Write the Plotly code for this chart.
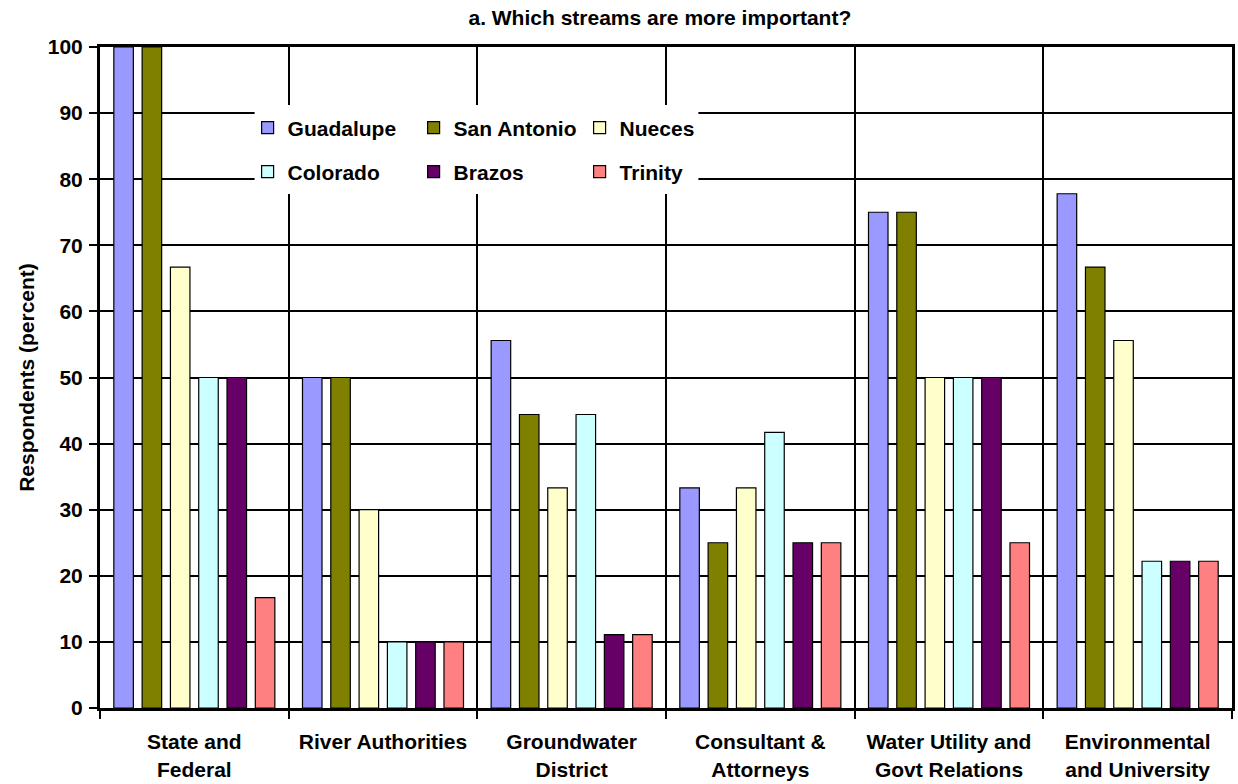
import plotly.graph_objects as go

categories = [
    "State and<br>Federal",
    "River Authorities",
    "Groundwater<br>District",
    "Consultant &<br>Attorneys",
    "Water Utility and<br>Govt Relations",
    "Environmental<br>and University",
]

guadalupe = [100, 50, 55.6, 33.3, 75, 77.8]
san_antonio = [100, 50, 44.4, 25, 75, 66.7]
nueces = [66.7, 30, 33.3, 33.3, 50, 55.6]
colorado = [50, 10, 44.4, 41.7, 50, 22.2]
brazos = [50, 10, 11.1, 25, 50, 22.2]
trinity = [16.7, 10, 11.1, 25, 25, 22.2]

y_ticks = [0, 10, 20, 30, 40, 50, 60, 70, 80, 90, 100]

series = [
    ("Guadalupe", guadalupe, "#9999FF", "legend"),
    ("San Antonio", san_antonio, "#808000", "legend"),
    ("Nueces", nueces, "#FFFFCC", "legend"),
    ("Colorado", colorado, "#CCFFFF", "legend2"),
    ("Brazos", brazos, "#660066", "legend2"),
    ("Trinity", trinity, "#FF8080", "legend2"),
]

FONT = "Liberation Sans, Arial, sans-serif"
FS = 21


def bold(size=FS):
    return dict(family=FONT, size=size, color="#000000", weight="bold")


# plot area in pixels: x 100..1235, y 47..708
L, R, T, B = 100, 1235, 47, 708


def px_x(v):
    return (v - L) / (R - L)


def px_y(v):
    return (B - v) / (B - T)


fig = go.Figure()
for name, vals, color, leg in series:
    fig.add_trace(go.Bar(
        x=categories, y=vals, name=name, legend=leg,
        marker=dict(color=color, line=dict(color="#000000", width=1.2)),
    ))

# white panel behind the legend that hides the grid lines
fig.add_shape(type="rect", xref="paper", yref="paper",
              x0=px_x(255), x1=px_x(700), y0=px_y(194), y1=px_y(105),
              fillcolor="white", line=dict(width=0), layer="above")

legend_common = dict(
    orientation="h", entrywidth=121, entrywidthmode="pixels",
    font=bold(), bgcolor="rgba(0,0,0,0)",
    xanchor="left", yanchor="middle",
    itemclick=False, itemdoubleclick=False,
)

fig.update_layout(
    width=1238, height=784,
    margin=dict(l=L, r=1238 - R, t=T, b=784 - B),
    plot_bgcolor="white", paper_bgcolor="white",
    barmode="group", bargap=0.1, bargroupgap=0.31,
    font=dict(family=FONT, color="#000000"),
    title=dict(text="a. Which streams are more important?",
               x=0.533, xanchor="center", y=0.977, yanchor="middle",
               font=bold(21)),
    legend=dict(x=px_x(248), y=px_y(128), **legend_common),
    legend2=dict(x=px_x(248), y=px_y(172), **legend_common),
    showlegend=True,
)

fig.update_xaxes(
    tickson="boundaries", ticks="outside", ticklen=8, tickwidth=2,
    tickcolor="#000000",
    showgrid=True, gridcolor="#000000", gridwidth=1.5,
    showline=True, linecolor="#000000", linewidth=3, mirror=True,
    tickfont=bold(),
    ticklabelstandoff=13,
)

fig.update_yaxes(
    range=[0, 100], tickvals=y_ticks,
    ticks="outside", ticklen=8, tickwidth=2, tickcolor="#000000",
    showgrid=True, gridcolor="#000000", gridwidth=1.5,
    showline=True, linecolor="#000000", linewidth=3, mirror=True,
    zeroline=False,
    tickfont=bold(),
    ticklabelstandoff=2,
    title=dict(text="Respondents (percent)", standoff=8, font=bold()),
)

fig.write_html("out.html")
